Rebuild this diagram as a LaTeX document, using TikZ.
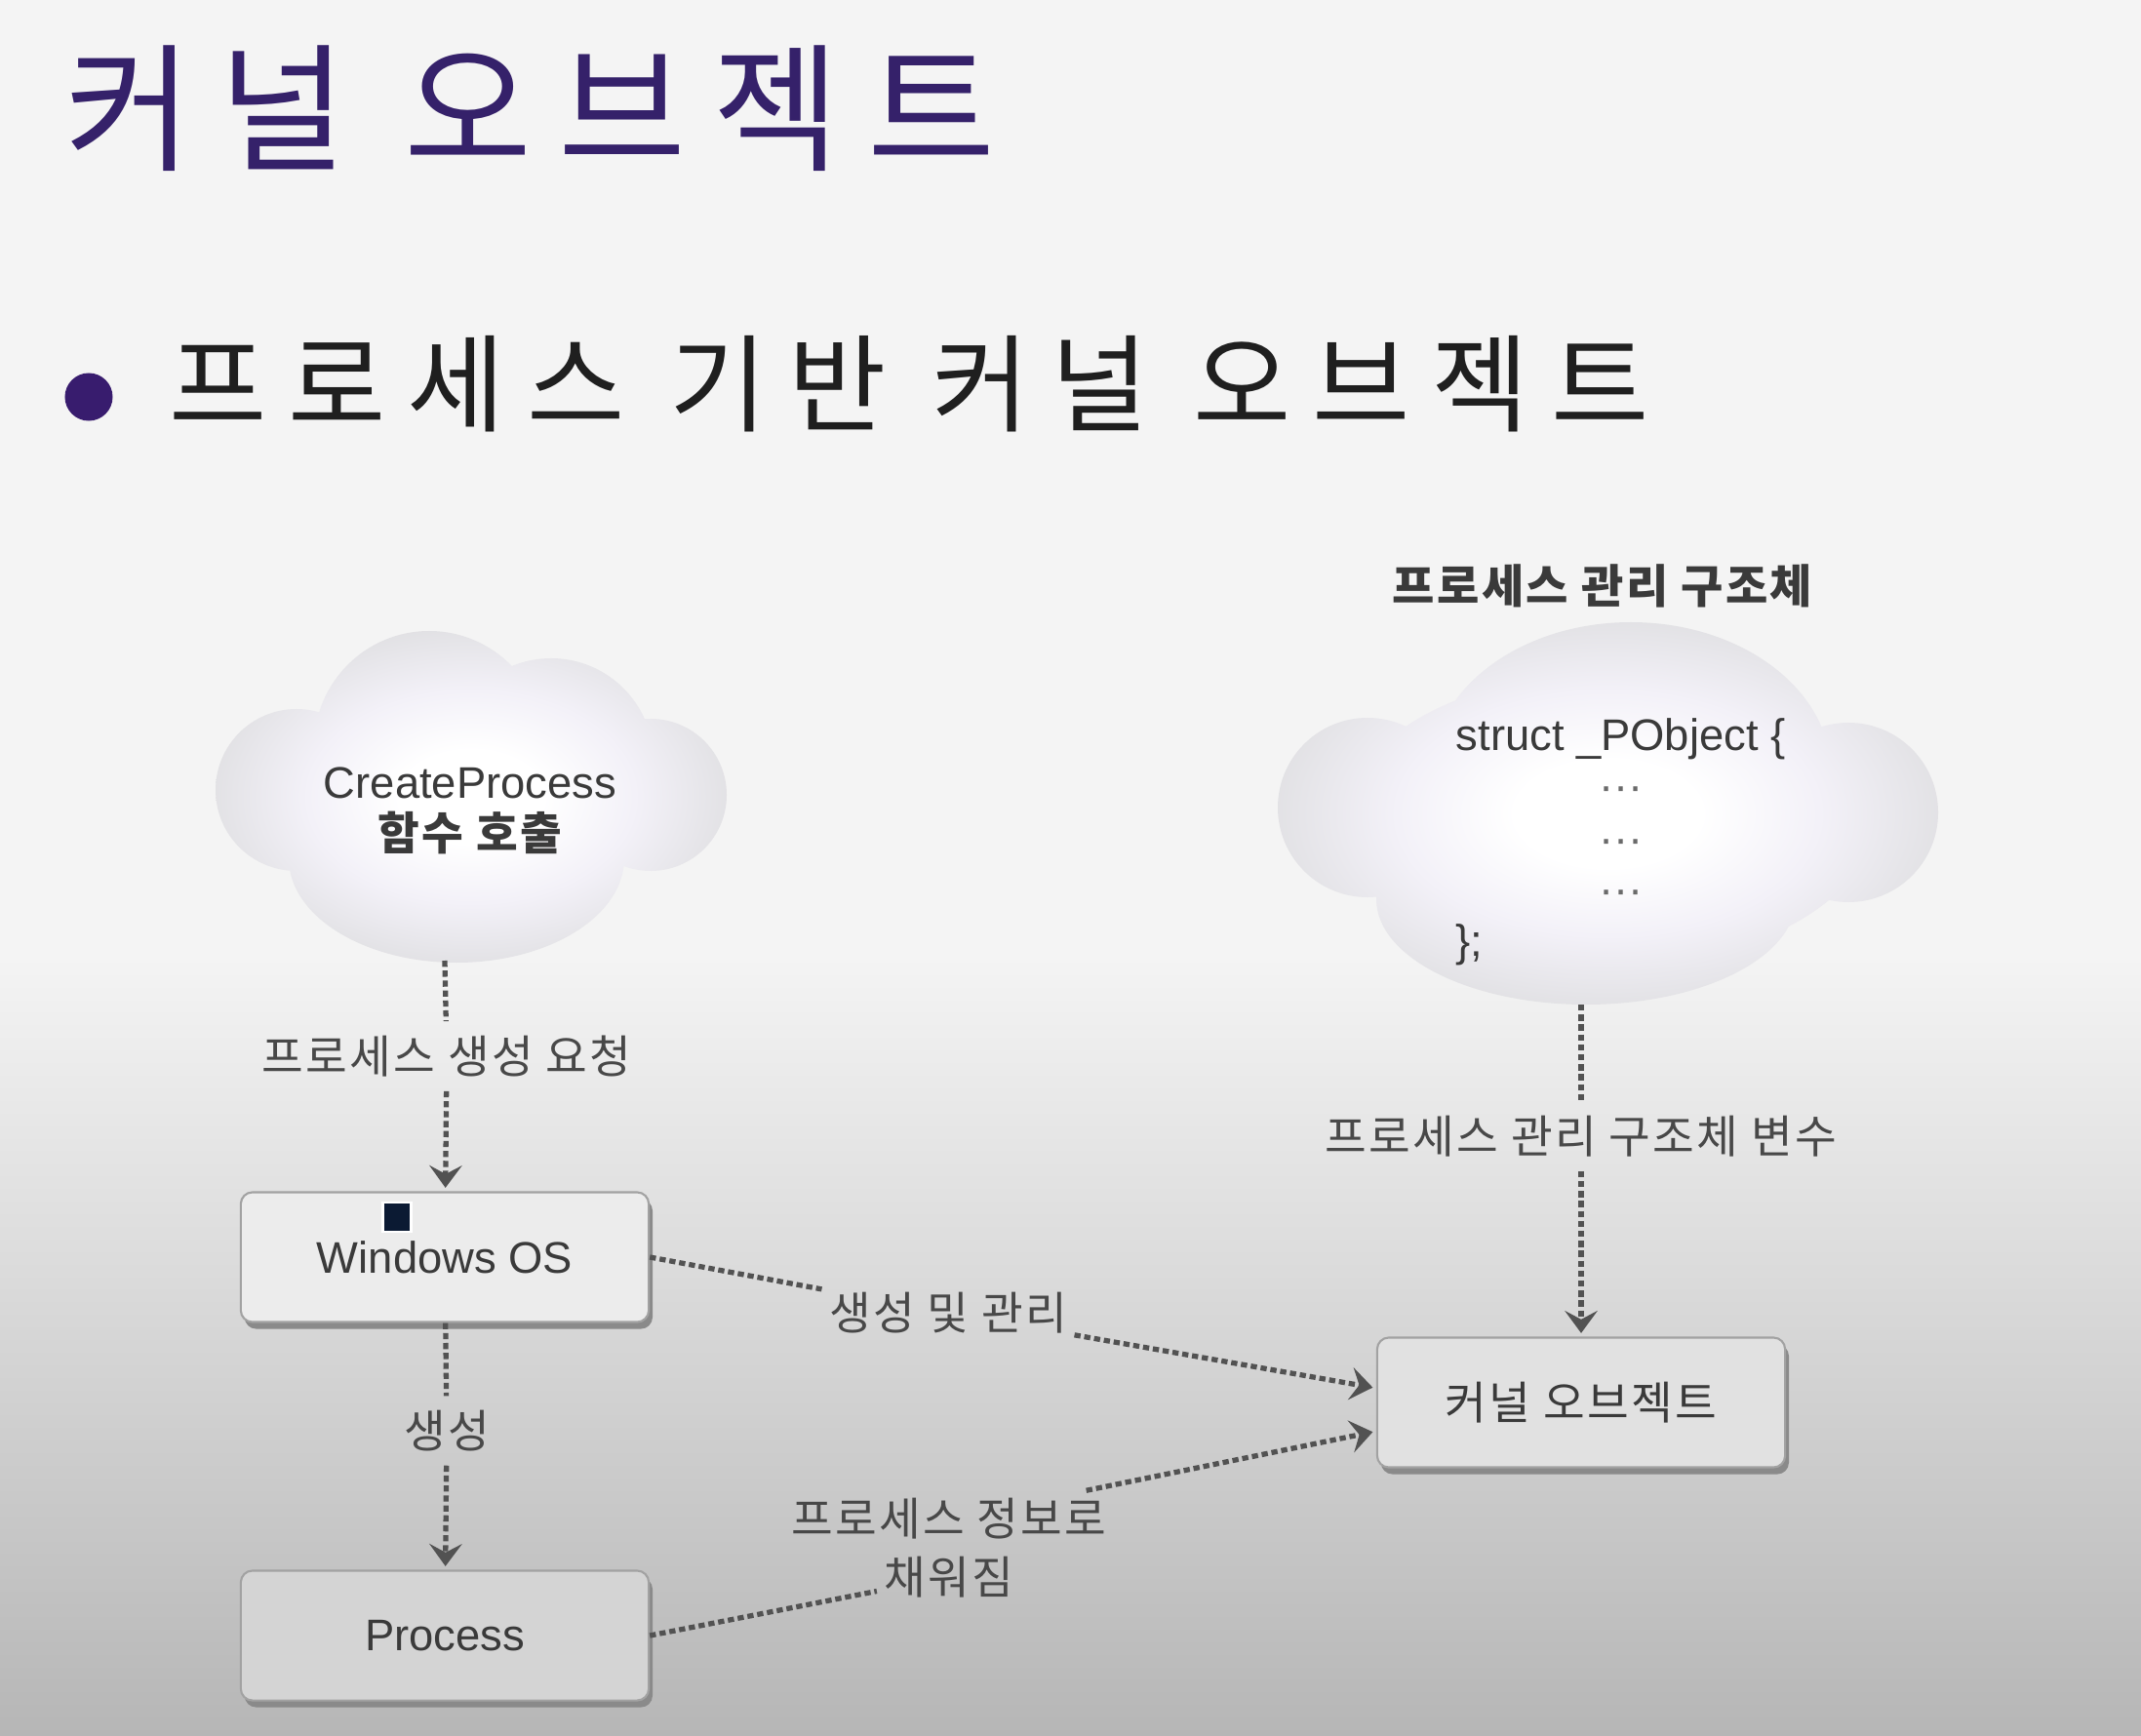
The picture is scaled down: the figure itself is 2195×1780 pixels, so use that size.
\documentclass[tikz,border=0pt]{standalone}
\usepackage{fontspec}
\setmainfont{Liberation Sans}
\newfontfamily\kr{Noto Sans CJK KR}[LetterSpace=5]
\newfontfamily\krtitle{Noto Sans CJK KR}[LetterSpace=19]
\newfontfamily\krwide{Noto Sans CJK KR}[LetterSpace=20]
\usetikzlibrary{arrows.meta,shadows}

\definecolor{bgtop}{HTML}{F4F4F4}
\definecolor{bgbot}{HTML}{B6B6B6}
\definecolor{titlepurple}{HTML}{35216A}
\definecolor{bulletpurple}{HTML}{381C6E}
\definecolor{txtc}{HTML}{3A3A3A}
\definecolor{lblc}{HTML}{484848}
\definecolor{connc}{HTML}{525252}
\definecolor{boxline}{HTML}{A2A2A2}
\definecolor{shadowc}{HTML}{8A8A8A}
\definecolor{navysq}{HTML}{0B1A33}
\definecolor{cloudout}{HTML}{CDCDCD}
\definecolor{cloudedge}{HTML}{D2D2D2}
\definecolor{cloudmid}{HTML}{DDDDDF}
\definecolor{cloudlav}{HTML}{F3F1F8}
\definecolor{winfill}{HTML}{ECECEC}
\definecolor{kernfill}{HTML}{E1E1E1}
\definecolor{procfill}{HTML}{D4D4D4}
\definecolor{dotc}{HTML}{6A6A6A}

\pgfdeclareradialshading{cloudsh}{\pgfpoint{0bp}{0bp}}{color(0bp)=(white); color(7bp)=(white); color(16bp)=(cloudlav); color(28bp)=(cloudmid); color(40bp)=(cloudedge); color(50bp)=(cloudout)}

\tikzset{
  objbox/.style={draw=boxline, line width=0.6pt, rounded corners=3.4pt,
    minimum width=4.18cm, minimum height=1.33cm, text=txtc,
    font=\fontsize{12.9}{15}\selectfont,
    drop shadow={shadow xshift=1.1pt, shadow yshift=-2pt, fill=shadowc, opacity=1}},
  lblnode/.style={text=lblc, font=\kr\fontsize{13.2}{17}\selectfont, inner sep=4pt},
  cloudtext/.style={text=txtc, font=\fontsize{12.9}{15}\selectfont},
  connline/.style={draw=connc, line width=1.5pt, dash pattern=on 1.8pt off 1.1pt},
  arr/.style={connline, -{Stealth[length=6.5pt,width=9.5pt,inset=2.5pt]}, shorten >=1pt},
  cloudshape/.style={shading=cloudsh}
}

\begin{document}
\begin{tikzpicture}[x=0.01cm,y=-0.01cm]
\useasboundingbox (0,0) rectangle (2195,1780);
% background
\fill[bgtop] (0,0) rectangle (2195,1780);
\shade[top color=bgtop, bottom color=bgbot] (0,980) rectangle (2195,1780);

% title and bullet
\node[anchor=base west, inner sep=0, text=titlepurple, font=\krtitle\fontsize{40.5}{48}\selectfont] (title) at (66,165) {커널 오브젝트};
\node[circle, fill=bulletpurple, minimum size=0.49cm, inner sep=0] (bul) at (91,407) {};
\node[anchor=base west, inner sep=0, text=black!88, font=\krwide\fontsize{31}{36}\selectfont] (btext) at (173,435) {프로세스 기반 커널 오브젝트};

% left cloud
\shade[cloudshape] (304,810) circle[radius=83] (667,815) circle[radius=78]
  (440,765) circle[radius=118] (565,780) circle[radius=105]
  (468,880) ellipse[x radius=172, y radius=107] (480,815) ellipse[x radius=190, y radius=110];
\node[cloudtext, align=center] (cpn) at (482,831) {CreateProcess\\{\kr\bfseries\fontsize{13.2}{15}\selectfont 함수 호출}};
\coordinate (lcb) at (456,985);

% right cloud
\node[font=\kr\bfseries\fontsize{13.4}{15}\selectfont, text=txtc] (hdr) at (1643,601) {프로세스 관리 구조체};
\shade[cloudshape] (1672,792) ellipse[x radius=205, y radius=154] (1402,828) circle[radius=92]
  (1895,833) circle[radius=92] (1626,922) ellipse[x radius=215, y radius=108]
  (1650,840) ellipse[x radius=270, y radius=150];
\node[cloudtext, anchor=base west, inner sep=0] (s1) at (1492,770) {struct \_PObject \{};
\node[cloudtext, anchor=base, inner sep=0, text=dotc] (s2) at (1662,822) {···};
\node[cloudtext, anchor=base, inner sep=0, text=dotc] (s3) at (1662,876) {···};
\node[cloudtext, anchor=base, inner sep=0, text=dotc] (s4) at (1662,927) {···};
\node[cloudtext, anchor=base west, inner sep=0] (s5) at (1492,980) {\};};
\coordinate (rcb) at (1621,1030);

% boxes
\node[objbox, fill=winfill] (win) at (456,1289) {Windows OS};
\node[objbox, fill=procfill] (proc) at (456,1677) {Process};
\node[objbox, fill=kernfill, font=\kr\fontsize{13.2}{15}\selectfont] (kern) at (1621,1438) {커널 오브젝트};
\node[fill=navysq, draw=white, line width=0.8pt, minimum width=0.29cm, minimum height=0.30cm, inner sep=0pt] (sq) at (407,1248) {};

% labels
\node[lblnode] (lreq) at (458,1083) {프로세스 생성 요청};
\node[lblnode] (lgen) at (458,1467) {생성};
\node[lblnode] (lvar) at (1621,1165) {프로세스 관리 구조체 변수};
\node[lblnode, inner sep=2pt] (lmg) at (972,1346) {생성 및 관리};
\node[lblnode, inner sep=2pt] (linf1) at (973,1557) {프로세스 정보로};
\node[lblnode, inner sep=2pt] (linf2) at (973,1617) {채워짐};

% connectors
\draw[connline] (lcb) -- (lreq);
\draw[arr] (lreq) -- (win);
\draw[connline] (win) -- (lgen);
\draw[arr] (lgen) -- (proc);
\draw[connline] (rcb) -- (lvar);
\draw[arr] (lvar) -- (kern);
\draw[connline] (win.east) -- (lmg);
\draw[arr] (lmg) -- (kern.176);
\draw[connline] (proc.east) -- (linf2);
\draw[arr] (linf1) -- (kern.188);
\end{tikzpicture}
\end{document}
